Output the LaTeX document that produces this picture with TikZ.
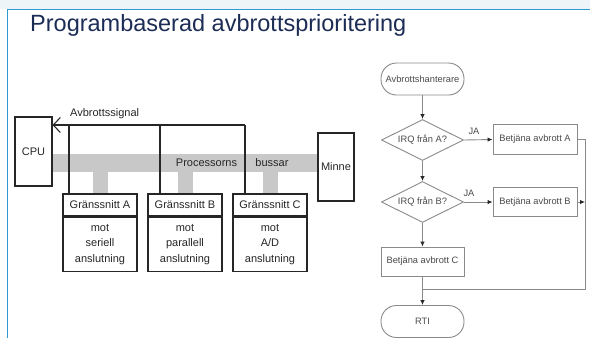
\documentclass[tikz,border=0pt]{standalone}
\usepackage{fontspec}
\setmainfont{Liberation Sans}
\usetikzlibrary{arrows.meta,shapes.geometric}
\definecolor{frameblue}{HTML}{2D9BD2}
\definecolor{bandbg}{HTML}{EEF5F9}
\definecolor{titlec}{HTML}{1B2C55}
\definecolor{busgray}{HTML}{C8C8C8}
\definecolor{flowgray}{HTML}{8A8A8A}
\definecolor{flowtext}{HTML}{4A4A4A}
\tikzset{
  lbox/.style={draw=black!85,line width=1.1pt,inner sep=0pt,font=\fontsize{11}{15.5}\selectfont,text=black!85},
  sig/.style={draw=black!85,line width=1.1pt},
  busline/.style={draw=busgray,line width=18pt},
  stubline/.style={draw=busgray,line width=15pt},
  fbox/.style={draw=flowgray,line width=0.9pt,inner sep=0pt,font=\fontsize{9.3}{11}\selectfont,text=flowtext},
  fterm/.style={fbox,rounded corners=15.5pt},
  fdiam/.style={fbox,diamond,aspect=2},
  fline/.style={draw=flowgray,line width=0.9pt},
  farrow/.style={fline,-{Latex[length=5pt,width=4.5pt,color=black!85]}},
  jalabel/.style={font=\fontsize{9.3}{11}\selectfont,text=flowtext},
  buslabel/.style={font=\fontsize{11}{13}\selectfont,text=black!85,inner sep=0pt},
}
\begin{document}
\begin{tikzpicture}[x=1pt,y=-1pt]
\useasboundingbox (0,0) rectangle (590,338);
% frame
\fill[bandbg] (0,0) rectangle (590,9);
\draw[frameblue,line width=1.6pt] (7.5,338) -- (7.5,9.3) -- (590,9.3);
\node[anchor=base west,text=titlec,font=\fontsize{23.5}{28}\selectfont,inner sep=0pt] (title) at (30,31) {Programbaserad avbrottsprioritering};

% ---- left diagram ----
\node[lbox,minimum width=37pt,minimum height=69pt] (cpu) at (33.5,151.5) {CPU};
\node[lbox,minimum width=36pt,minimum height=68pt] (minne) at (336,167) {Minne};
\node[lbox,minimum width=74pt,minimum height=22pt] (gA) at (100,205) {Gränssnitt A};
\node[lbox,minimum width=74pt,minimum height=54pt,align=center,anchor=north] (gAb) at (gA.south) {mot\\seriell\\anslutning};
\node[lbox,minimum width=74pt,minimum height=22pt] (gB) at (185,205) {Gränssnitt B};
\node[lbox,minimum width=74pt,minimum height=54pt,align=center,anchor=north] (gBb) at (gB.south) {mot\\parallell\\anslutning};
\node[lbox,minimum width=74pt,minimum height=22pt] (gC) at (270,205) {Gränssnitt C};
\node[lbox,minimum width=74pt,minimum height=54pt,align=center,anchor=north] (gCb) at (gC.south) {mot\\A/D\\anslutning};

% bus
\coordinate (busL) at (52.6,163);
\coordinate (busR) at (317.4,163);
\draw[busline] (busL) -- (busR);
\draw[stubline] (gA.north) -- (gA.north |- busL);
\draw[stubline] (gB.north) -- (gB.north |- busL);
\draw[stubline] (gC.north) -- (gC.north |- busL);
\node[buslabel] (bus1) at (206.5,163) {Processorns};
\node[buslabel] (bus2) at (272,163) {bussar};

% interrupt signal
\coordinate (jA) at (69,125);
\coordinate (jB) at (160,125);
\coordinate (jC) at (245,125);
\draw[sig,-{Straight Barb[length=7pt,width=15pt]}] (jC) -- (jC -| cpu.east);
\draw[sig] (jA) -- (jA |- gA.north);
\draw[sig] (jB) -- (jB |- gB.north);
\draw[sig] (jC) -- (jC |- gC.north);
\node[buslabel,anchor=west] (sigl) at (70,114) {Avbrottssignal};

% ---- flowchart ----
\node[fterm,minimum width=83pt,minimum height=32pt] (start) at (422.5,79) {Avbrottshanterare};
\node[fdiam,minimum width=82pt,minimum height=41pt] (dA) at (422.5,140) {IRQ från A?};
\node[fbox,minimum width=84pt,minimum height=30pt] (bA) at (535,139.5) {Betjäna avbrott A};
\node[fdiam,minimum width=82pt,minimum height=41pt] (dB) at (422.5,202) {IRQ från B?};
\node[fbox,minimum width=84pt,minimum height=29pt] (bB) at (535,202) {Betjäna avbrott B};
\node[fbox,minimum width=83pt,minimum height=29pt] (bC) at (422.5,261.5) {Betjäna avbrott C};
\node[fterm,minimum width=83pt,minimum height=32pt] (rti) at (422.5,321.5) {RTI};

\coordinate (rA) at (585,139.5);
\coordinate (rB) at (585,202);
\coordinate (rJ) at (585,289);
\coordinate (mJ) at (422.5,289);

\draw[farrow] (start.south) -- (dA.north);
\draw[farrow] (dA.east) -- (bA.west);
\draw[farrow] (dA.south) -- (dB.north);
\draw[farrow] (dB.east) -- (bB.west);
\draw[farrow] (dB.south) -- (bC.north);
\draw[farrow] (bC.south) -- (rti.north);
\draw[fline] (bA.east) -- (rA) -- (rJ) -- (mJ);
\draw[farrow] (bB.east) -- (rB);
\node[jalabel,inner sep=0pt] (ja1) at (474,131.5) {JA};
\node[jalabel,inner sep=0pt] (ja2) at (469,193) {JA};
\end{tikzpicture}
\end{document}
